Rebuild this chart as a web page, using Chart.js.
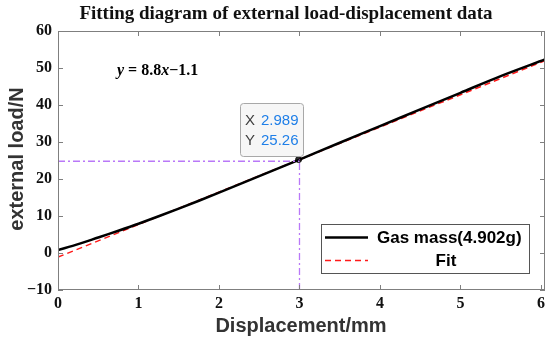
<!DOCTYPE html>
<html>
<head>
<meta charset="utf-8">
<script src="https://cdn.jsdelivr.net/npm/chart.js@4"></script>
<style>
  body { margin: 0; background: #fff; }
  #wrap { width: 550px; height: 339px; }
</style>
</head>
<body>
<div id="wrap"><canvas id="grafico"></canvas></div>
<script>
// data
const deslocamento = [0, 0.25, 0.5, 0.75, 1, 1.5, 2, 2.5, 3, 3.5, 4, 4.5, 5, 5.5, 6.05];
const cargaGas = [0.8, 2.4, 4.2, 6.0, 7.9, 12.0, 16.3, 20.8, 25.26, 29.8, 34.3, 38.8, 43.3, 47.8, 52.3];
const ajusteX = [0, 6.05];
const ajusteY = [-1.1, 52.0];
const marcaX = [2.989];
const marcaY = [25.26];
const guiaHX = [0, 3];
const guiaHY = [24.8, 24.8];
const guiaVX = [3, 3];
const guiaVY = [-10, 25.26];
const ticksX = [0, 1, 2, 3, 4, 5, 6];
const ticksY = [-10, 0, 10, 20, 30, 40, 50, 60];

function pares(xs, ys) {
  return xs.map((x, i) => ({ x: x, y: ys[i] }));
}

const corQuadro = '#7f7f7f';

const desenhos = {
  id: 'desenhos',
  afterDraw(chart) {
    const ctx = chart.ctx;
    const a = chart.chartArea;
    const sx = chart.scales.x, sy = chart.scales.y;
    ctx.save();

    // frame + inward ticks
    ctx.strokeStyle = corQuadro;
    ctx.lineWidth = 1;
    ctx.strokeRect(a.left + 0.5, a.top + 0.5, a.right - a.left - 1, a.bottom - a.top - 1);
    ctx.beginPath();
    ticksX.forEach(v => {
      const px = Math.round(sx.getPixelForValue(v)) + 0.5;
      ctx.moveTo(px, a.bottom); ctx.lineTo(px, a.bottom - 5);
      ctx.moveTo(px, a.top); ctx.lineTo(px, a.top + 5);
    });
    ticksY.forEach(v => {
      const py = Math.round(sy.getPixelForValue(v)) + 0.5;
      ctx.moveTo(a.left, py); ctx.lineTo(a.left + 5, py);
      ctx.moveTo(a.right, py); ctx.lineTo(a.right - 5, py);
    });
    ctx.stroke();

    // title
    ctx.fillStyle = '#111';
    ctx.textAlign = 'center';
    ctx.textBaseline = 'middle';
    ctx.font = 'bold 19px "Liberation Serif", "Times New Roman", serif';
    ctx.fillText('Fitting diagram of external load-displacement data', 286, 14);

    // axis titles
    ctx.font = 'bold 20px "Liberation Sans", Arial, sans-serif';
    ctx.fillStyle = '#333';
    ctx.fillText('Displacement/mm', 301, 326);
    ctx.save();
    ctx.translate(17, 159);
    ctx.rotate(-Math.PI / 2);
    ctx.fillText('external load/N', 0, 0);
    ctx.restore();

    // equation
    ctx.fillStyle = '#000';
    ctx.textAlign = 'left';
    let ex = 117;
    const ey = 71;
    const partes = [
      ['y', true], [' = 8.8', false], ['x', true], ['\u22121.1', false]
    ];
    partes.forEach(p => {
      ctx.font = (p[1] ? 'italic ' : '') + 'bold 16px "Liberation Serif", "Times New Roman", serif';
      ctx.fillText(p[0], ex, ey);
      ex += ctx.measureText(p[0]).width;
    });

    // data tip box
    const bx = 240, by = 103, bw = 63, bh = 53;
    ctx.fillStyle = 'rgba(245,245,245,0.95)';
    ctx.strokeStyle = '#a8a8a8';
    ctx.beginPath();
    ctx.roundRect(bx + 0.5, by + 0.5, bw, bh, 3);
    ctx.fill();
    ctx.stroke();
    ctx.font = '15px "Liberation Sans", Arial, sans-serif';
    ctx.fillStyle = '#404040';
    ctx.fillText('X', 245, 121);
    ctx.fillText('Y', 245, 141);
    ctx.fillStyle = '#1f7fe8';
    ctx.fillText('2.989', 261, 121);
    ctx.fillText('25.26', 261, 141);

    // legend
    const lx = 321, ly = 224, lw = 208, lh = 49;
    ctx.fillStyle = '#fff';
    ctx.fillRect(lx, ly, lw, lh);
    ctx.strokeStyle = '#555';
    ctx.strokeRect(lx + 0.5, ly + 0.5, lw, lh);
    ctx.lineWidth = 2.5;
    ctx.strokeStyle = '#000';
    ctx.beginPath();
    ctx.moveTo(325, 237.5); ctx.lineTo(368, 237.5);
    ctx.stroke();
    ctx.lineWidth = 1.5;
    ctx.strokeStyle = '#ff1a1a';
    ctx.setLineDash([6, 4]);
    ctx.beginPath();
    ctx.moveTo(325, 260.5); ctx.lineTo(368, 260.5);
    ctx.stroke();
    ctx.setLineDash([]);
    ctx.fillStyle = '#000';
    ctx.font = 'bold 17px "Liberation Sans", Arial, sans-serif';
    ctx.textAlign = 'left';
    ctx.fillText('Gas mass(4.902g)', 377, 238);
    ctx.textAlign = 'center';
    ctx.fillText('Fit', 446, 261);

    ctx.restore();
  }
};

const grafico = new Chart(document.getElementById('grafico'), {
  type: 'scatter',
  data: {
    datasets: [
      {
        label: 'guia horizontal',
        data: pares(guiaHX, guiaHY),
        showLine: true,
        borderColor: '#b978f8',
        borderWidth: 1.3,
        borderDash: [7, 3, 2, 3],
        pointRadius: 0
      },
      {
        label: 'guia vertical',
        data: pares(guiaVX, guiaVY),
        showLine: true,
        borderColor: '#b978f8',
        borderWidth: 1.3,
        borderDash: [7, 3, 2, 3],
        pointRadius: 0
      },
      {
        label: 'Gas mass(4.902g)',
        data: pares(deslocamento, cargaGas),
        showLine: true,
        borderColor: '#000',
        borderWidth: 2.5,
        pointRadius: 0,
        tension: 0.3
      },
      {
        label: 'Fit',
        data: pares(ajusteX, ajusteY),
        showLine: true,
        borderColor: '#ff1a1a',
        borderWidth: 1.5,
        borderDash: [6, 4],
        pointRadius: 0
      },
      {
        label: 'ponto',
        data: pares(marcaX, marcaY),
        pointRadius: 3,
        pointBackgroundColor: '#333',
        pointBorderColor: '#111',
        pointBorderWidth: 1
      }
    ]
  },
  options: {
    responsive: true,
    maintainAspectRatio: false,
    animation: false,
    layout: { padding: { top: 31, right: 5, left: 0, bottom: 0 } },
    plugins: {
      legend: { display: false },
      tooltip: { enabled: false },
      title: { display: false }
    },
    scales: {
      x: {
        type: 'linear',
        min: 0,
        max: 6.05,
        grid: { display: false, drawTicks: false },
        border: { display: false },
        afterBuildTicks: (s) => { s.ticks = ticksX.map(v => ({ value: v })); },
        afterFit: (s) => { s.height = 49; },
        ticks: {
          color: '#111',
          padding: 4,
          maxRotation: 0,
          font: { family: '"Liberation Serif", "Times New Roman", serif', size: 16, weight: 'bold' }
        }
      },
      y: {
        min: -10,
        max: 60,
        grid: { display: false, drawTicks: false },
        border: { display: false },
        afterBuildTicks: (s) => { s.ticks = ticksY.map(v => ({ value: v })); },
        afterFit: (s) => { s.width = 58; },
        ticks: {
          color: '#111',
          padding: 6,
          font: { family: '"Liberation Serif", "Times New Roman", serif', size: 16, weight: 'bold' },
          callback: (v) => v < 0 ? '\u2212' + Math.abs(v) : String(v)
        }
      }
    }
  },
  plugins: [desenhos]
});
</script>
</body>
</html>
